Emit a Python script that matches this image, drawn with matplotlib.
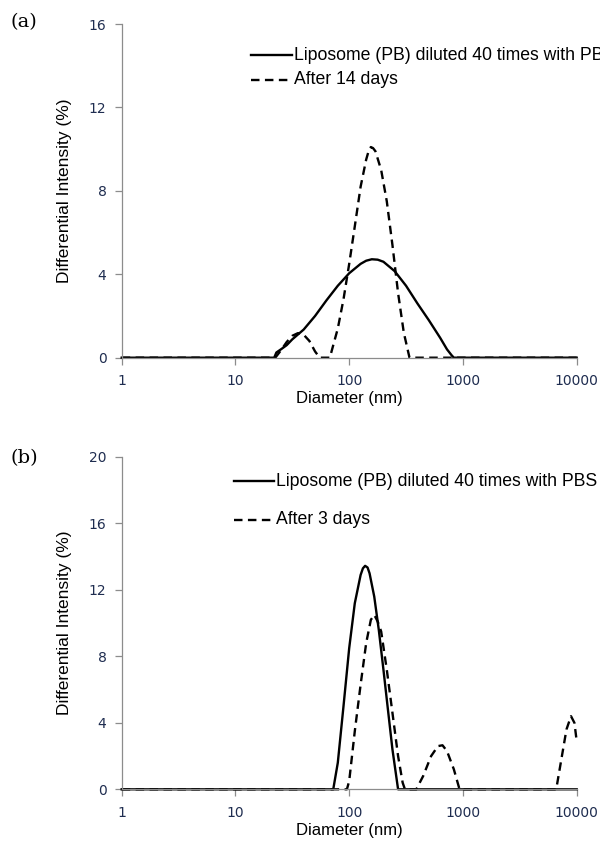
import matplotlib
matplotlib.use("Agg")
import matplotlib.pyplot as plt
from matplotlib.lines import Line2D
from matplotlib.ticker import FixedLocator, FixedFormatter, NullLocator

# ---------------- data ----------------
x_ticks = [1, 10, 100, 1000, 10000]
x_tick_labels = ["1", "10", "100", "1000", "10000"]

a_y_ticks = [0, 4, 8, 12, 16]
b_y_ticks = [0, 4, 8, 12, 16, 20]

a_solid_label = "Liposome (PB) diluted 40 times with PBS"
a_dash_label = "After 14 days"
b_solid_label = "Liposome (PB) diluted 40 times with PBS"
b_dash_label = "After 3 days"

a_solid_d = [1, 21.9, 22.9, 25.1, 28.2, 31.6, 39.8, 50.1, 63.1, 79.4, 100, 126,
             141, 158, 178, 200, 251, 316, 398, 501, 631, 724, 794, 832, 10000]
a_solid_y = [0, 0, 0.25, 0.4, 0.6, 0.88, 1.35, 2.0, 2.75, 3.45, 4.05, 4.5,
             4.65, 4.72, 4.7, 4.6, 4.15, 3.45, 2.6, 1.8, 0.95, 0.4, 0.12, 0, 0]

a_dash_d = [1, 22.4, 25.1, 28.2, 31.6, 35.5, 39.8, 44.7, 50.1, 55.0, 67.6, 72.4,
            79.4, 89.1, 100, 112, 126, 141, 148, 155, 162, 170, 191, 214, 240,
            269, 302, 339, 10000]
a_dash_y = [0, 0, 0.35, 0.75, 1.05, 1.18, 1.1, 0.8, 0.3, 0, 0, 0.6,
            1.4, 2.8, 4.5, 6.3, 8.2, 9.5, 9.9, 10.1, 10.05, 9.9, 9.0, 7.5, 5.4,
            3.1, 1.2, 0, 0]

b_solid_d = [1, 72.4, 79.4, 89.1, 100, 112, 126, 132, 138, 145, 151, 166, 182,
             200, 219, 240, 269, 10000]
b_solid_y = [0, 0, 1.6, 5.0, 8.5, 11.2, 12.9, 13.3, 13.45, 13.35, 13.0, 11.6,
             9.6, 7.2, 4.8, 2.4, 0, 0]

b_dash_d = [1, 95.5, 100, 112, 126, 141, 155, 166, 178, 191, 214, 240, 269, 295,
            309, 389, 447, 525, 603, 661, 724, 832, 933, 6607, 7413, 8128,
            8913, 9550, 10000]
b_dash_y = [0, 0, 0.5, 3.5, 6.3, 8.8, 10.2, 10.5, 10.1, 9.5, 7.2, 4.6, 2.0, 0.4,
            0, 0, 0.8, 2.0, 2.6, 2.65, 2.3, 1.2, 0, 0, 2.0, 3.6,
            4.4, 4.0, 2.9]

# ---------------- figure ----------------
W, H = 600, 859
fig = plt.figure(figsize=(W / 100, H / 100), dpi=100)

TICK_COLOR = "#1f2d50"
SPINE_COLOR = "#8c8c8c"
LABEL_FONT = ["Liberation Sans", "DejaVu Sans"]
TICK_FONT = ["DejaVu Sans"]
DASHES = (3.6, 2.3)
LW = 1.7


def px_axes(x0, y0, x1, y1):
    return fig.add_axes([x0 / W, 1 - y1 / H, (x1 - x0) / W, (y1 - y0) / H])


def style(ax, yticks, ymax):
    ax.set_xscale("log")
    ax.set_xlim(1, 10000)
    ax.set_ylim(0, ymax)
    ax.xaxis.set_major_locator(FixedLocator(x_ticks))
    ax.xaxis.set_major_formatter(FixedFormatter(x_tick_labels))
    ax.xaxis.set_minor_locator(NullLocator())
    ax.set_yticks(yticks)
    ax.set_yticklabels([str(v) for v in yticks])
    for s in ["top", "right"]:
        ax.spines[s].set_visible(False)
    for s in ["left", "bottom"]:
        ax.spines[s].set_color(SPINE_COLOR)
        ax.spines[s].set_linewidth(0.9)
    ax.tick_params(axis="both", direction="out", length=5, width=0.9,
                   color=SPINE_COLOR, labelcolor=TICK_COLOR, labelsize=10)
    ax.tick_params(axis="x", pad=7)
    ax.tick_params(axis="y", pad=6)
    for lab in ax.get_xticklabels() + ax.get_yticklabels():
        lab.set_family(TICK_FONT)
    ax.set_xlabel("Diameter (nm)", family=LABEL_FONT, fontsize=12, labelpad=2)
    ax.set_ylabel("Differential Intensity (%)", family=LABEL_FONT, fontsize=12.5,
                  labelpad=12)
    ax.patch.set_alpha(0)


def legend_entry(y_px, x0, x1, text, dashed):
    ln = Line2D([x0 / W, x1 / W], [1 - y_px / H, 1 - y_px / H], color="black",
                lw=LW, transform=fig.transFigure)
    if dashed:
        ln.set_dashes(DASHES)
    fig.add_artist(ln)
    fig.text((x1 + 2) / W, 1 - y_px / H, text, family=LABEL_FONT, fontsize=12.7,
             va="center", ha="left")


# panel (a)
axa = px_axes(121.7, 24, 576.7, 357.7)
style(axa, a_y_ticks, 16)
axa.plot(a_solid_d, a_solid_y, color="black", lw=LW, solid_joinstyle="round",
         clip_on=False)
la, = axa.plot(a_dash_d, a_dash_y, color="black", lw=LW, clip_on=False)
la.set_dashes(DASHES)
legend_entry(55, 251, 292, a_solid_label, False)
legend_entry(80, 251, 292, a_dash_label, True)
fig.text(10 / W, 1 - 22 / H, "(a)", family=["DejaVu Serif"], fontsize=14,
         va="center", ha="left")

# panel (b)
axb = px_axes(121.7, 457, 576.7, 789.3)
style(axb, b_y_ticks, 20)
axb.plot(b_solid_d, b_solid_y, color="black", lw=LW, solid_joinstyle="round",
         clip_on=False)
lb, = axb.plot(b_dash_d, b_dash_y, color="black", lw=LW, clip_on=False)
lb.set_dashes(DASHES)
legend_entry(481, 234, 274, b_solid_label, False)
legend_entry(520, 234, 274, b_dash_label, True)
fig.text(10 / W, 1 - 458 / H, "(b)", family=["DejaVu Serif"], fontsize=14,
         va="center", ha="left")

fig.savefig("out.png", dpi=100)
